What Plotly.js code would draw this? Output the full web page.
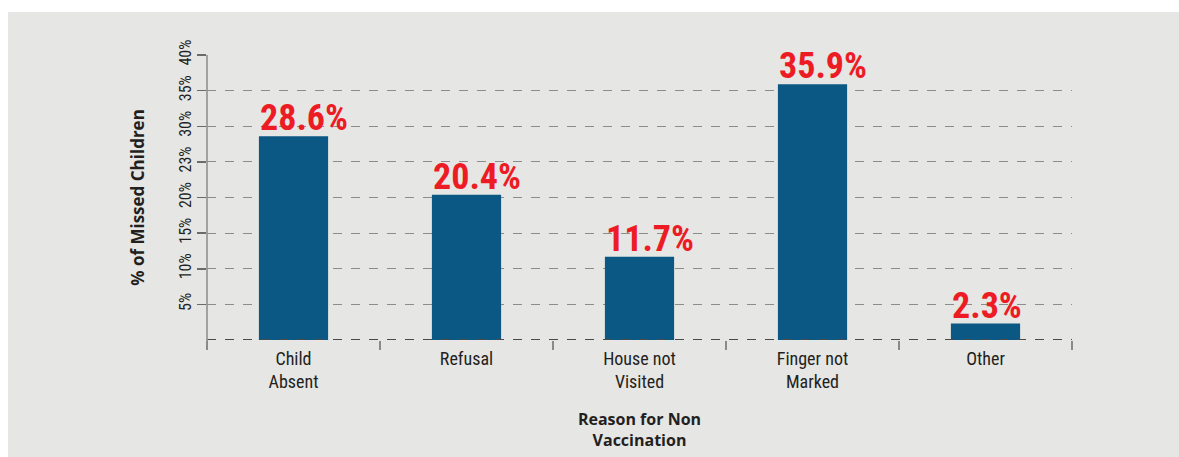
<!DOCTYPE html>
<html>
<head>
<meta charset="utf-8">
<script src="https://cdn.plot.ly/plotly-3.0.1.min.js"></script>
<style>
  html, body { margin: 0; padding: 0; background: #ffffff; }
  #chart { position: absolute; left: 8px; top: 12px; width: 1171px; height: 445px; }
</style>
</head>
<body>
<div id="chart"></div>
<script>
const categories = ["Child<br>Absent", "Refusal", "House not<br>Visited", "Finger not<br>Marked", "Other"];
const values = [28.6, 20.4, 11.7, 35.9, 2.3];
const valueLabels = ["28.6%", "20.4%", "11.7%", "35.9%", "2.3%"];
const yTickVals = [5, 10, 15, 20, 25, 30, 35, 40];
const yTickText = ["5%", "10%", "15%", "20%", "23%", "30%", "35%", "40%"];

const condensed = "'Roboto Condensed', Roboto, sans-serif";
const barWidth = 0.4;

const trace = {
  type: "bar",
  x: categories,
  y: values,
  marker: { color: "#0b5884", line: { width: 0 } },
  width: barWidth,
  hoverinfo: "skip"
};

const labelAnnotations = values.map((v, i) => ({
  xref: "x", yref: "y",
  x: i - barWidth / 2,
  y: v,
  text: valueLabels[i],
  showarrow: false,
  xanchor: "left",
  yanchor: "bottom",
  yshift: -5,
  xshift: -1,
  font: { family: condensed, size: 36, color: "#ed1c24", weight: 700, stretch: "condensed" }
}));

const layout = {
  width: 1171,
  height: 445,
  margin: { l: 199, r: 107, t: 43, b: 117 },
  paper_bgcolor: "#e6e6e4",
  plot_bgcolor: "#e6e6e4",
  showlegend: false,
  xaxis: {
    type: "category",
    tickson: "boundaries",
    ticks: "outside",
    ticklen: 9,
    tickwidth: 1.5,
    tickcolor: "#8a8a8a",
    ticklabelstandoff: 6,
    showgrid: false,
    showline: false,
    zeroline: false,
    tickfont: { family: condensed, size: 18, color: "#231f20", stretch: "condensed" },
    title: {
      text: "Reason for Non<br>Vaccination",
      font: { family: "'Open Sans', sans-serif", size: 16, color: "#231f20", weight: 700 },
      standoff: 22
    }
  },
  yaxis: {
    range: [0, 40],
    tickvals: yTickVals,
    ticktext: yTickText,
    tickangle: -90,
    ticks: "outside",
    ticklen: 9,
    tickwidth: 1.5,
    tickcolor: "#6a6a6a",
    tickfont: { family: condensed, size: 16, color: "#231f20", stretch: "condensed" },
    showgrid: true,
    gridcolor: "#8c8c8c",
    gridwidth: 1,
    griddash: "dash",
    showline: false,
    zeroline: false,
    title: {
      text: "% of Missed Children",
      font: { family: "'Open Sans', sans-serif", size: 17, color: "#231f20", weight: 700 },
      standoff: 26
    }
  },
  annotations: labelAnnotations,
  shapes: [
    { type: "line", xref: "paper", yref: "y", x0: 0, x1: 1, y0: 0, y1: 0,
      line: { color: "#4a4a4a", width: 2, dash: "dash" } },
    { type: "line", xref: "paper", yref: "paper", x0: 0, x1: 0, y0: -0.035, y1: 1,
      line: { color: "#8a8a8a", width: 1.5 } }
  ]
};

Plotly.newPlot("chart", [trace], layout, { displayModeBar: false, staticPlot: true });
</script>
</body>
</html>
